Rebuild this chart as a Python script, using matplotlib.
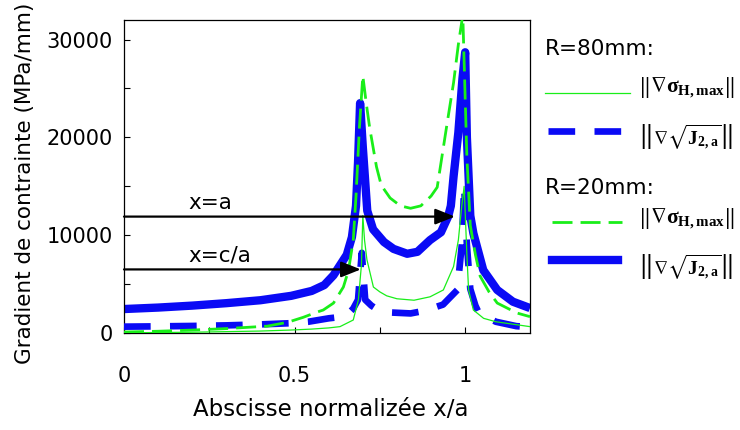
import matplotlib
matplotlib.use("Agg")
import matplotlib.pyplot as plt
from matplotlib.lines import Line2D

plt.rcParams['font.family'] = ['DejaVu Sans']
plt.rcParams['mathtext.fontset'] = 'custom'
plt.rcParams['mathtext.rm'] = 'Liberation Serif:bold'
plt.rcParams['mathtext.it'] = 'Liberation Serif:bold'
plt.rcParams['mathtext.bf'] = 'Liberation Serif:bold'
plt.rcParams['mathtext.fallback'] = 'stix'

# ---------------- data ----------------
# R=20mm, ||grad sqrt(J2,a)||  (thick blue solid)
x_r20_j2 = [0, 0.1, 0.2, 0.3, 0.4, 0.49, 0.55, 0.587, 0.614, 0.653, 0.668, 0.68, 0.686, 0.692,
            0.70, 0.713, 0.73, 0.762, 0.79, 0.83, 0.86, 0.897, 0.929, 0.95, 0.958, 0.966, 0.98,
            0.992, 1.0, 1.005, 1.015, 1.024, 1.053, 1.094, 1.14, 1.19]
y_r20_j2 = [2450, 2600, 2800, 3050, 3350, 3800, 4300, 4900, 5900, 8000, 9800, 13000, 17500, 23500,
            19000, 12500, 10600, 9300, 8600, 8100, 8300, 9500, 10300, 11900, 13000, 16000, 20500,
            26000, 28700, 20000, 12000, 10200, 6430, 4400, 3200, 2550]

# R=20mm, ||grad sigma_H,max||  (green dashed)
x_r20_sh = [0, 0.1, 0.2, 0.3, 0.42, 0.48, 0.525, 0.567, 0.584, 0.614, 0.643, 0.658, 0.672, 0.68,
            0.69, 0.70, 0.71, 0.72, 0.74, 0.754, 0.78, 0.81, 0.84, 0.87, 0.9, 0.918, 0.946, 0.966,
            0.98, 0.993, 1.005, 1.015, 1.03, 1.044, 1.07, 1.094, 1.152, 1.19]
y_r20_sh = [100, 180, 300, 450, 700, 1100, 1600, 2150, 2350, 3060, 4700, 6400, 9500, 14000,
            21000, 26300, 23500, 21000, 17000, 15100, 13800, 13000, 12750, 13000, 14000, 14900, 21200, 25600,
            29500, 32500, 18000, 11000, 8000, 5800, 4200, 3060, 2040, 1670]

# R=80mm, ||grad sigma_H,max||  (thin green solid)
x_r80_sh = [0, 0.2, 0.4, 0.487, 0.55, 0.6, 0.633, 0.672, 0.687, 0.696, 0.70, 0.705, 0.712, 0.731,
            0.75, 0.77, 0.8, 0.85, 0.897, 0.936, 0.966, 0.98, 0.99, 0.997, 1.005, 1.01, 1.024,
            1.054, 1.09, 1.19]
y_r80_sh = [20, 80, 200, 300, 400, 520, 650, 1330, 3400, 7000, 12000, 9500, 7500, 4700,
            4200, 3800, 3500, 3350, 3700, 4400, 6800, 9500, 13000, 15000, 8000, 4400, 2350,
            1500, 1150, 650]

# R=80mm, ||grad sqrt(J2,a)||  (thick blue dashed)
x_r80_j2 = [0, 0.1, 0.2, 0.3, 0.4, 0.487, 0.54, 0.6, 0.65, 0.672, 0.686, 0.69, 0.697, 0.707,
            0.725, 0.745, 0.78, 0.84, 0.87, 0.9, 0.935, 0.977, 0.99, 0.997, 1.005, 1.015, 1.03,
            1.04, 1.09, 1.15, 1.19]
y_r80_j2 = [650, 680, 720, 780, 880, 1000, 1150, 1500, 1700, 2500, 3400, 5200, 8200, 3400,
            2800, 2350, 2100, 2000, 2200, 2500, 2900, 4400, 9000, 15000, 9000, 4500, 2800,
            2050, 1150, 700, 600]

x_ticks = [0, 0.25, 0.5, 0.75, 1.0]
x_tick_labels = ['0', '', '0.5', '', '1']
y_ticks = [0, 5000, 10000, 15000, 20000, 25000, 30000]
y_tick_labels = ['0', '', '10000', '', '20000', '', '30000']

arrow_a_y = 11900
arrow_a_x = 0.97
arrow_c_y = 6500
arrow_c_x = 0.694

# ---------------- figure ----------------
W, H = 740, 430
fig = plt.figure(figsize=(7.4, 4.3), dpi=100)
ax = fig.add_axes([124 / W, 1 - 333 / H, (530 - 124) / W, (333 - 20) / H])

BLUE = '#0a0af5'
GREEN = '#19ee19'

ax.plot(x_r20_j2, y_r20_j2, color=BLUE, lw=6.0, solid_joinstyle='round', solid_capstyle='butt', zorder=2)
ax.plot(x_r80_j2, y_r80_j2, color=BLUE, lw=4.8, linestyle=(0, (4.0, 2.9)), zorder=3)
ax.plot(x_r20_sh, y_r20_sh, color=GREEN, lw=2.0, linestyle=(0, (7.2, 2.9)), zorder=4)
ax.plot(x_r80_sh, y_r80_sh, color=GREEN, lw=0.9, zorder=5)

ax.set_xlim(0, 1.19)
ax.set_ylim(0, 32000)
ax.set_xticks(x_ticks)
ax.set_xticklabels(x_tick_labels)
ax.set_yticks(y_ticks)
ax.set_yticklabels(y_tick_labels)
ax.tick_params(axis='x', direction='in', length=4, width=0.8, labelsize=15, pad=24)
ax.tick_params(axis='y', direction='in', length=4, width=0.8, labelsize=15, pad=8)
for s in ax.spines.values():
    s.set_linewidth(0.9)

# arrows
ap = dict(arrowstyle='-|>,head_length=0.6,head_width=0.24', color='black', lw=1.6,
          shrinkA=0, shrinkB=0, mutation_scale=20)
ax.annotate('', xy=(arrow_a_x, arrow_a_y), xytext=(0, arrow_a_y), arrowprops=ap, zorder=6)
ax.annotate('', xy=(arrow_c_x, arrow_c_y), xytext=(0, arrow_c_y), arrowprops=ap, zorder=6)
ax.text(0.19, 13300, 'x=a', fontsize=15.5, ha='left', va='center')
ax.text(0.19, 7960, 'x=c/a', fontsize=15.5, ha='left', va='center')

# axis labels
fig.text(331 / W, 1 - 410 / H, 'Abscisse normalizée x/a', fontsize=16.5, ha='center', va='center')
fig.text(25 / W, 1 - 183 / H, 'Gradient de contrainte (MPa/mm)', fontsize=15.5,
         rotation=90, ha='center', va='center')

# legend (manual)
def fx(px):
    return px / W

def fy(py):
    return 1 - py / H

lab_sh = r'$\left\Vert\nabla\sigma_{\mathrm{H,max}}\right\Vert$'
lab_j2 = r'$\left\Vert\nabla\sqrt{J_{\mathrm{2,a}}}\right\Vert$'

fig.text(fx(545), fy(49), 'R=80mm:', fontsize=15.5, ha='left', va='center')
fig.add_artist(Line2D([fx(545), fx(630)], [fy(93), fy(93)], color=GREEN, lw=0.9))
fig.text(fx(638), fy(88), lab_sh, fontsize=15.5, ha='left', va='center')
fig.add_artist(Line2D([fx(548), fx(622)], [fy(131), fy(131)], color=BLUE, lw=4.8,
                      linestyle=(0, (4.0, 2.9))))
fig.text(fx(638), fy(137), lab_j2, fontsize=14, ha='left', va='center')

fig.text(fx(545), fy(188), 'R=20mm:', fontsize=15.5, ha='left', va='center')
fig.add_artist(Line2D([fx(552), fx(622)], [fy(222), fy(222)], color=GREEN, lw=2.0,
                      linestyle=(0, (7.2, 2.9))))
fig.text(fx(638), fy(218), lab_sh, fontsize=15.5, ha='left', va='center')
fig.add_artist(Line2D([fx(552), fx(618)], [fy(260), fy(260)], color=BLUE, lw=6.0))
fig.text(fx(638), fy(267), lab_j2, fontsize=14, ha='left', va='center')

fig.savefig('out.png', dpi=100)
